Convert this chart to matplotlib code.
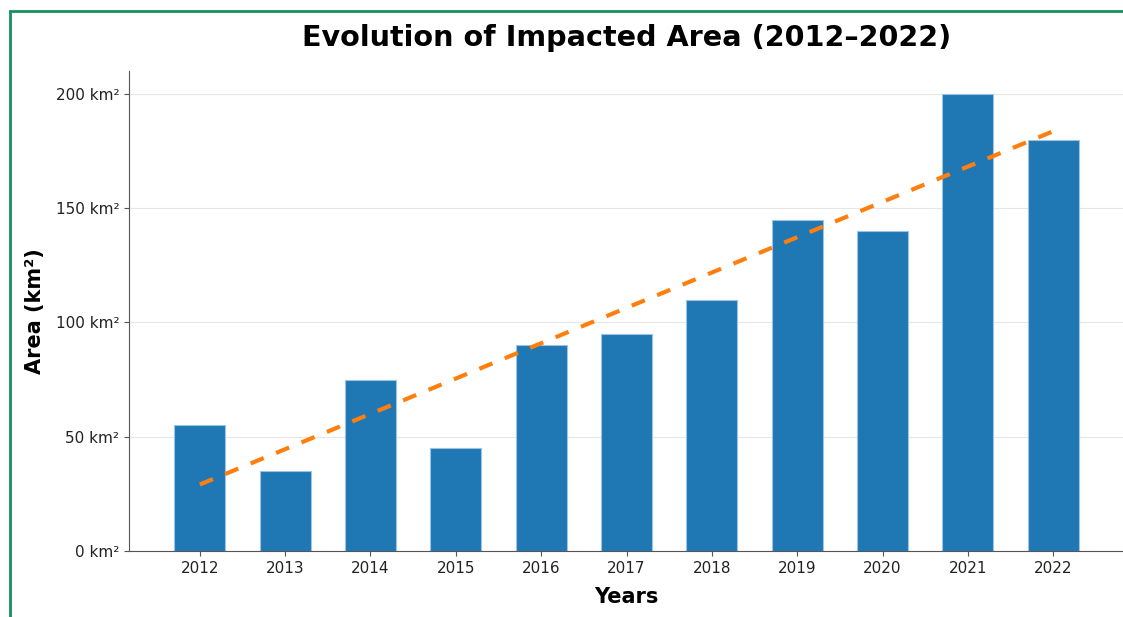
import matplotlib
matplotlib.use("Agg")
import matplotlib.pyplot as plt
import numpy as np
from matplotlib.patches import Rectangle

years = [2012, 2013, 2014, 2015, 2016, 2017, 2018, 2019, 2020, 2021, 2022]
areas = [55, 35, 75, 45, 90, 95, 110, 145, 140, 200, 180]
yticks = [0, 50, 100, 150, 200]

W, H = 1123, 617
fig = plt.figure(figsize=(W / 100, H / 100), dpi=100)
ax = fig.add_axes([129 / W, 1 - 551 / H, (1124 - 129) / W, (551 - 71) / H])

x = np.arange(len(years))
ax.bar(x, areas, width=0.6, color="#1f77b4", edgecolor="#9cc3e4", linewidth=0.8, zorder=2)

coef = np.polyfit(x, areas, 1)
ax.plot(x, np.polyval(coef, x), linestyle=(0, (3.4, 3.2)), color="#ff7f0e", linewidth=3, zorder=3)

ax.set_xlim(-0.83, len(years) - 1 + 0.83)
ax.set_ylim(0, 210)
ax.set_xticks(x)
ax.set_xticklabels([str(y) for y in years], fontsize=11)
ax.set_yticks(yticks)
ax.set_yticklabels([f"{v} km²" for v in yticks], fontsize=11)
ax.grid(axis="y", color="#e6e6e6", linewidth=0.8, zorder=0)
ax.set_axisbelow(True)
for s in ["top", "right"]:
    ax.spines[s].set_visible(False)
for s in ["left", "bottom"]:
    ax.spines[s].set_color("#555555")
ax.tick_params(colors="#555555", labelcolor="#222222")

ax.set_title("Evolution of Impacted Area (2012–2022)", fontsize=20.6, fontweight="bold", pad=18)
ax.set_xlabel("Years", fontsize=15, fontweight="bold", labelpad=8)
ax.set_ylabel("Area (km²)", fontsize=15, fontweight="bold", labelpad=8)

fig.patches.append(Rectangle((9.5 / W, -0.1), 1.2, 1 - 11 / H + 0.1, transform=fig.transFigure,
                             fill=False, edgecolor="#17905c", linewidth=2))

fig.savefig("out.png", dpi=100)
